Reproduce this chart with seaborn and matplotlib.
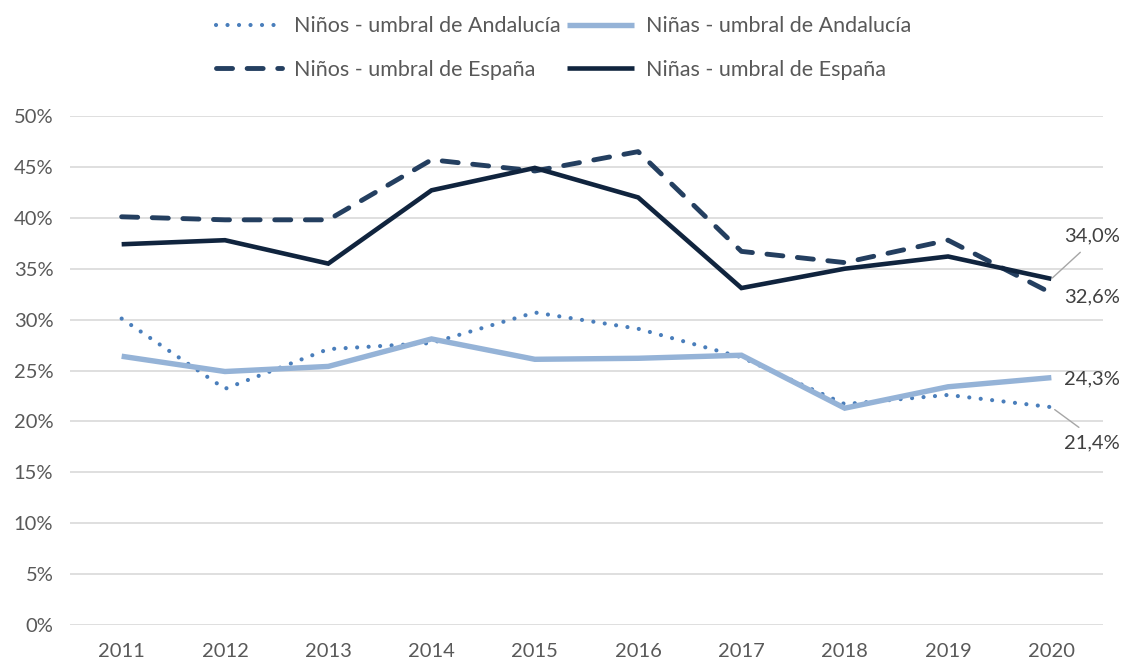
"""
Pobreza infantil por sexo: umbral de Andalucía vs umbral de España
"""

import pandas as pd
import numpy as np
import matplotlib
matplotlib.use("Agg")
import matplotlib.pyplot as plt
import seaborn as sns
from matplotlib.ticker import FuncFormatter

# Data
years = [2011, 2012, 2013, 2014, 2015, 2016, 2017, 2018, 2019, 2020]
ninos_andalucia = [30.1, 23.2, 27.1, 27.7, 30.7, 29.1, 26.3, 21.7, 22.6, 21.4]
ninas_andalucia = [26.4, 24.9, 25.4, 28.1, 26.1, 26.2, 26.5, 21.3, 23.4, 24.3]
ninos_espana = [40.1, 39.8, 39.8, 45.7, 44.6, 46.5, 36.7, 35.6, 37.8, 32.6]
ninas_espana = [37.4, 37.8, 35.5, 42.7, 44.9, 42.0, 33.1, 35.0, 36.2, 34.0]

labels = [
    "Niños - umbral de Andalucía",
    "Niñas - umbral de Andalucía",
    "Niños - umbral de España",
    "Niñas - umbral de España",
]

sns.set_theme(style="white")
plt.rcParams["font.family"] = ["Lato", "DejaVu Sans"]

text_color = "#595959"

df = pd.DataFrame({
    "year": years * 4,
    "value": np.array(ninos_andalucia + ninas_andalucia + ninos_espana + ninas_espana) / 100,
    "serie": np.repeat(labels, len(years)),
})

# style per series
styles = {
    labels[0]: dict(color="#4A7EBB", lw=3.0, ls=(0, (0.01, 2.75))),
    labels[1]: dict(color="#95B3D7", lw=3.9, ls="-"),
    labels[2]: dict(color="#243F60", lw=3.5, ls=(0, (3.3, 3.0))),
    labels[3]: dict(color="#10243E", lw=3.3, ls="-"),
}

fig = plt.figure(figsize=(11.27, 6.66), dpi=100)
ax = fig.add_axes([70 / 1127, 41 / 666, 1033 / 1127, 509 / 666])

for name in labels:
    st = styles[name]
    sns.lineplot(
        data=df[df["serie"] == name], x="year", y="value", ax=ax,
        color=st["color"], linewidth=st["lw"], linestyle=st["ls"],
        dash_capstyle="round", solid_capstyle="butt", solid_joinstyle="miter",
        label=name,
    )

ax.set_xlim(2010.5, 2020.5)
ax.set_ylim(0, 0.5)
ax.set_yticks(np.arange(0, 0.501, 0.05))
ax.set_xticks(years)
ax.yaxis.set_major_formatter(FuncFormatter(lambda v, p: f"{v * 100:.0f}%"))
ax.grid(axis="y", color="#D9D9D9", linewidth=1.2)
ax.set_axisbelow(True)
for s in ax.spines.values():
    s.set_visible(False)
ax.tick_params(axis="both", length=0, labelsize=14.5, labelcolor=text_color)
ax.tick_params(axis="y", pad=12)
ax.tick_params(axis="x", pad=13)
ax.set_xlabel("")
ax.set_ylabel("")

# end-of-line value labels
last = {name: df[df["serie"] == name]["value"].iloc[-1] for name in labels}
lab_kw = dict(textcoords="offset points", fontsize=14.5, color="#404040",
              ha="left", va="center", annotation_clip=False)
ax.annotate(f"{last[labels[3]] * 100:.1f}%".replace(".", ","), xy=(years[-1], last[labels[3]]),
            xytext=(9, 31), arrowprops=dict(arrowstyle="-", color="#A6A6A6", lw=1,
                                            relpos=(0.45, 0), shrinkA=5, shrinkB=1),
            **lab_kw)
ax.annotate(f"{last[labels[2]] * 100:.1f}%".replace(".", ","), xy=(years[-1], last[labels[2]]),
            xytext=(9, -3), **lab_kw)
ax.annotate(f"{last[labels[1]] * 100:.1f}%".replace(".", ","), xy=(years[-1], last[labels[1]]),
            xytext=(9, -1), **lab_kw)
ax.annotate(f"{last[labels[0]] * 100:.1f}%".replace(".", ","), xy=(years[-1], last[labels[0]]),
            xytext=(9, -26), arrowprops=dict(arrowstyle="-", color="#A6A6A6", lw=1,
                                             relpos=(0.45, 1), shrinkA=5, shrinkB=3),
            **lab_kw)

# legend: two rows, two columns
handles, labs = ax.get_legend_handles_labels()
ax.get_legend().remove()
order = [0, 2, 1, 3]
fig.legend([handles[i] for i in order], [labs[i] for i in order],
           loc="upper center", bbox_to_anchor=(0.5, 1.0), ncol=2, frameon=False,
           fontsize=15.5, labelcolor=text_color, handlelength=3.1,
           handletextpad=0.55, columnspacing=0.3, labelspacing=1.1,
           borderaxespad=0.35)

fig.savefig("out.png", dpi=100)
